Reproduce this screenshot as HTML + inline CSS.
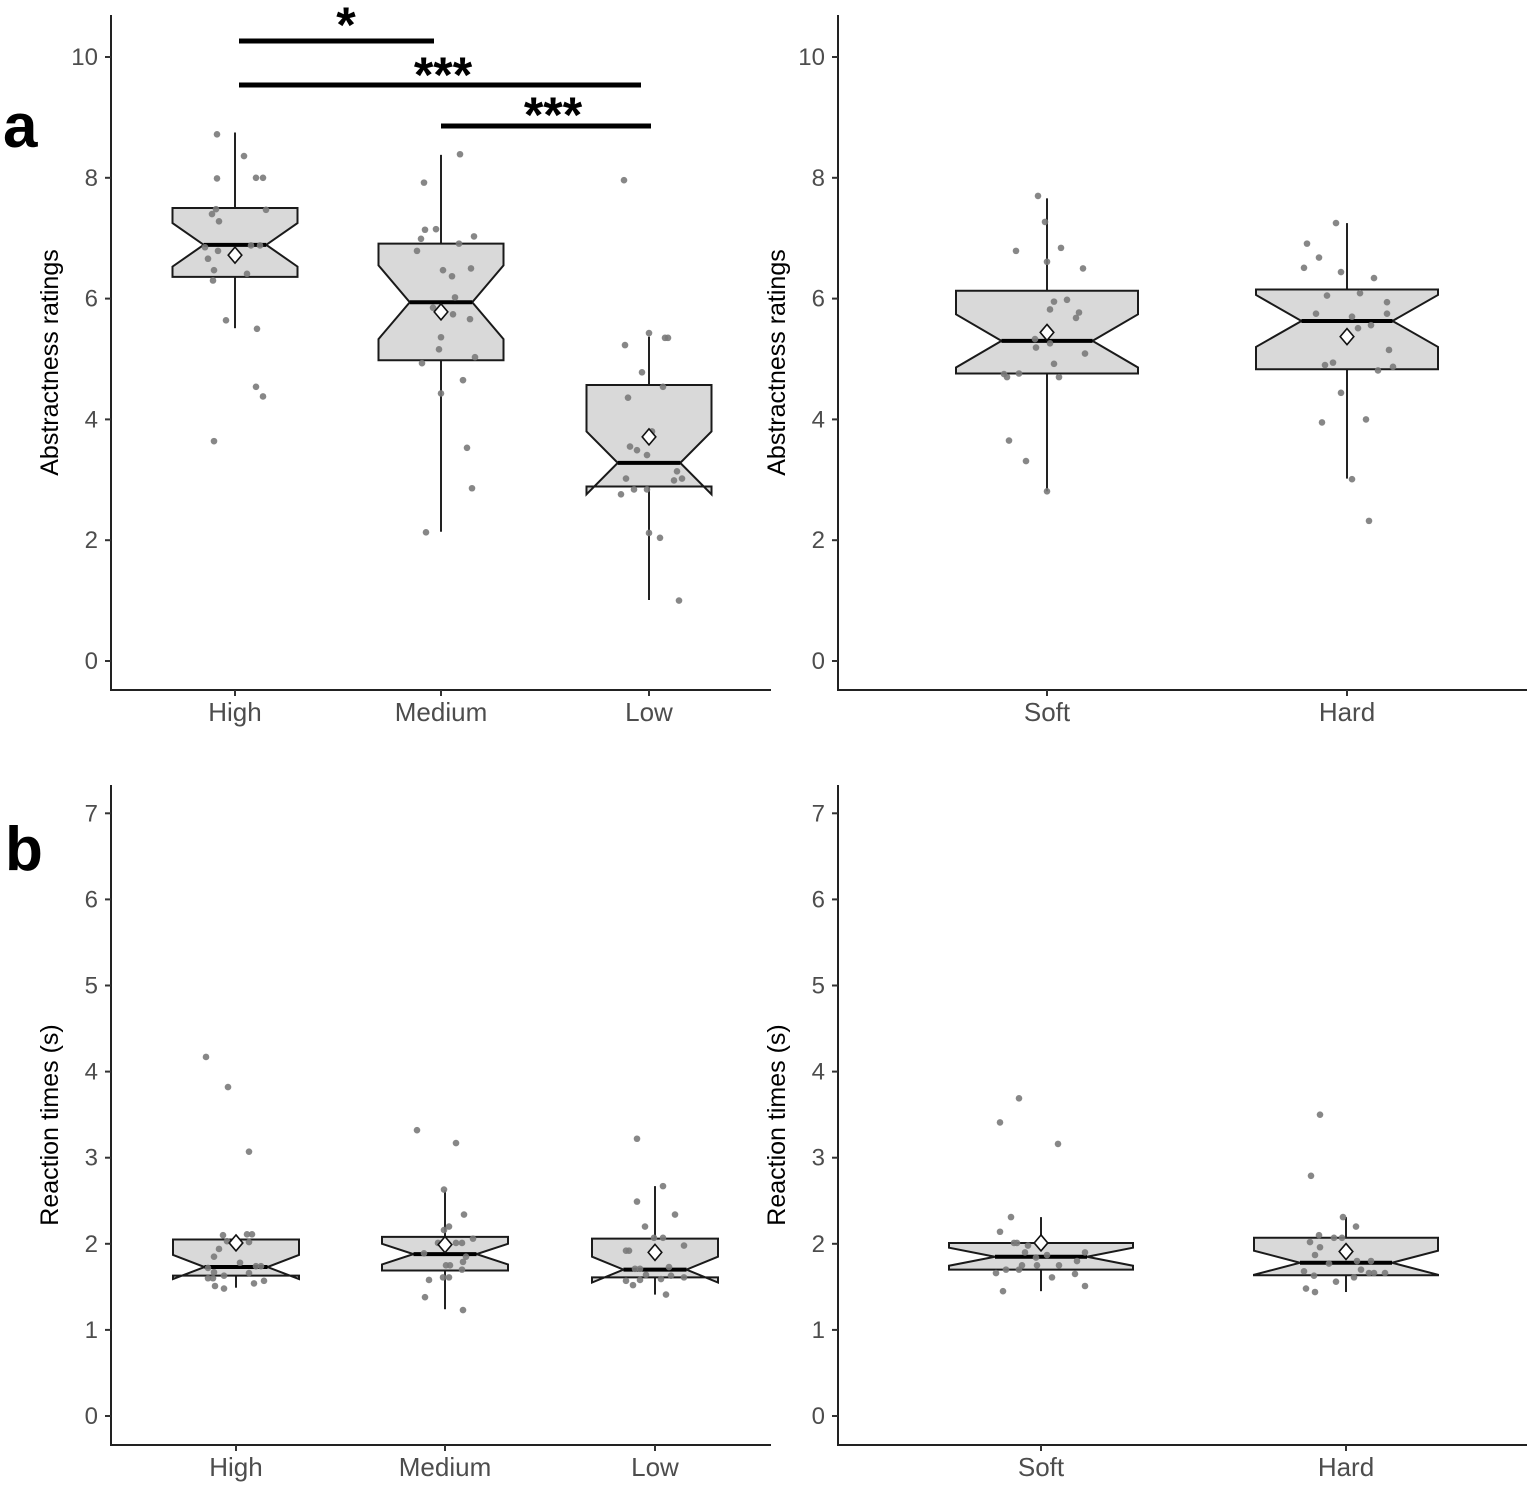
<!DOCTYPE html>
<html><head><meta charset="utf-8"><style>
html,body{margin:0;padding:0;background:#fff}
svg{display:block}
text{font-family:"Liberation Sans",sans-serif}
</style></head><body>
<svg id="fig" width="1535" height="1487" viewBox="0 0 1535 1487" xmlns="http://www.w3.org/2000/svg"></svg>
<script>
// ---- Panel A-left: abstractness by level ----
const catsAL = ["High","Medium","Low"];
const statsAL_q1 = [6.36, 4.98, 2.89];
const statsAL_q3 = [7.50, 6.91, 4.57];
const statsAL_med = [6.89, 5.94, 3.28];
const statsAL_notch = [0.36, 0.61, 0.52];
const statsAL_wlo = [5.51, 2.14, 1.01];
const statsAL_whi = [8.75, 8.38, 5.37];
const statsAL_mean = [6.72, 5.78, 3.71];
const ptsAL_vals = [
 [8.72,8.36,7.99,8.0,8.0,7.48,7.47,7.40,7.28,6.85,6.79,6.88,6.88,6.66,6.47,6.41,6.30,5.64,5.50,4.54,4.38,3.64],
 [8.39,7.92,7.14,7.15,6.99,7.03,6.91,6.79,6.47,6.50,6.37,6.02,5.85,5.74,5.66,5.36,5.16,5.03,4.93,4.65,4.43,3.53,2.86,2.13],
 [7.96,5.43,5.35,5.35,5.23,4.78,4.54,4.36,3.80,3.55,3.49,3.41,3.14,3.02,2.99,3.02,2.84,2.84,2.76,2.12,2.04,1.00]];
const ptsAL_jit = [
 [-18,9,-18,21,28,-19,31,-23,-16,-30,-17,16,25,-27,-21,12,-22,-9,22,21,28,-21],
 [19,-17,-16,-5,-20,33,18,-24,2,30,11,14,-8,12,29,0,-2,34,-19,22,0,26,31,-15],
 [-25,0,16,19,-24,-7,14,-21,3,-19,-12,-2,28,-23,25,33,-15,-2,-28,0,11,30]];
// ---- Panel A-right: abstractness by stiffness ----
const catsAR = ["Soft","Hard"];
const statsAR_q1 = [4.76, 4.83];
const statsAR_q3 = [6.13, 6.15];
const statsAR_med = [5.30, 5.63];
const statsAR_notch = [0.44, 0.43];
const statsAR_wlo = [2.81, 3.02];
const statsAR_whi = [7.66, 7.25];
const statsAR_mean = [5.44, 5.37];
const ptsAR_vals = [
 [7.70,7.27,6.79,6.84,6.61,6.50,5.95,5.98,5.82,5.77,5.68,5.33,5.19,5.26,5.09,4.92,4.75,4.70,4.76,4.70,3.65,3.31,2.81],
 [7.25,6.91,6.68,6.51,6.44,6.34,6.05,6.09,5.94,5.75,5.75,5.70,5.56,5.51,5.15,4.90,4.94,4.81,4.87,4.44,3.95,4.00,3.01,2.32]];
const ptsAR_jit = [
 [-9,-2,-31,14,0,36,7,20,3,32,29,-12,-11,3,38,7,-43,-40,-28,12,-38,-21,0],
 [-11,-40,-28,-43,-6,27,-20,13,40,-31,40,5,24,11,42,-22,-14,31,46,-6,-25,19,5,22]];
// ---- Panel B-left: reaction times by level ----
const catsBL = ["High","Medium","Low"];
const statsBL_q1 = [1.63, 1.69, 1.61];
const statsBL_q3 = [2.05, 2.08, 2.06];
const statsBL_med = [1.73, 1.88, 1.70];
const statsBL_notch = [0.14, 0.12, 0.15];
const statsBL_wlo = [1.49, 1.24, 1.41];
const statsBL_whi = [2.05, 2.62, 2.67];
const statsBL_mean = [2.01, 1.99, 1.90];
const ptsBL_vals = [
 [4.17,3.82,3.07,2.10,2.11,2.11,2.03,2.02,1.94,1.85,1.78,1.72,1.74,1.74,1.67,1.66,1.63,1.60,1.60,1.57,1.54,1.51,1.48],
 [3.32,3.17,2.63,2.34,2.20,2.16,2.06,2.01,2.01,2.01,1.89,1.75,1.75,1.85,1.79,1.70,1.58,1.61,1.61,1.38,1.23],
 [3.22,2.67,2.49,2.34,2.20,2.07,2.07,1.98,1.92,1.92,1.71,1.71,1.73,1.64,1.63,1.61,1.57,1.58,1.59,1.52,1.41]];
const ptsBL_jit = [
 [-30,-8,13,-13,11,16,-9,13,-17,-22,4,-28,20,25,-22,13,-12,-28,-23,28,18,-21,-12],
 [-28,11,-1,19,4,-1,28,-7,11,17,-21,1,5,21,18,17,-16,-2,4,-20,18],
 [-18,8,-18,20,-10,-1,8,29,-29,-26,-20,-15,14,-9,16,29,-29,-15,6,-22,11]];
// ---- Panel B-right: reaction times by stiffness ----
const catsBR = ["Soft","Hard"];
const statsBR_q1 = [1.70, 1.635];
const statsBR_q3 = [2.01, 2.07];
const statsBR_med = [1.85, 1.78];
const statsBR_notch = [0.105, 0.14];
const statsBR_wlo = [1.45, 1.44];
const statsBR_whi = [2.31, 2.31];
const statsBR_mean = [2.01, 1.91];
const ptsBR_vals = [
 [3.69,3.41,3.16,2.31,2.14,2.01,2.01,1.98,1.90,1.90,1.87,1.84,1.80,1.75,1.75,1.75,1.70,1.70,1.66,1.65,1.61,1.51,1.45],
 [3.50,2.79,2.31,2.20,2.10,2.07,2.07,2.02,1.96,1.87,1.77,1.80,1.80,1.70,1.68,1.66,1.66,1.66,1.63,1.61,1.56,1.48,1.44]];
const ptsBR_jit = [
 [-22,-41,17,-30,-41,-27,-24,-13,-16,44,6,-5,36,-19,-4,18,-35,-22,-45,34,11,44,-38],
 [-26,-35,-3,10,-27,-12,-4,-36,-26,-31,-17,11,25,15,-42,23,28,39,-32,8,-10,-40,-31]];
const ticksA = [0,2,4,6,8,10];
const ticksB = [0,1,2,3,4,5,6,7];

const NS = "http://www.w3.org/2000/svg";
const svg = document.getElementById("fig");
function mk(tag, attrs, parent){
  const e = document.createElementNS(NS, tag);
  for (const k in attrs) e.setAttribute(k, attrs[k]);
  (parent||svg).appendChild(e);
  return e;
}

function panel(p){
  const g = mk("g", {});
  
  
  const y = v => p.y0 - (v - 0) * p.ppu;
  const x = i => p.xc[i];
  const ya = mk("line", {x1:p.ax, y1:p.top, x2:p.ax, y2:p.bottom, stroke:"#222", "stroke-width":2}, g);
  
  
  const xa = mk("line", {x1:p.ax-1, y1:p.bottom, x2:p.right, y2:p.bottom, stroke:"#222", "stroke-width":2}, g);
  
  
  p.ticks.forEach(t => {
    mk("line", {x1:p.ax-6, y1:y(t), x2:p.ax, y2:y(t), stroke:"#333", "stroke-width":2}, g);
    const tl = mk("text", {x:p.ax-13, y:y(t)+8, "text-anchor":"end", "font-size":24, fill:"#4d4d4d"}, g);
    tl.textContent = t;
    
    
  });
  p.cats.forEach((c,i) => {
    mk("line", {x1:x(i), y1:p.bottom, x2:x(i), y2:p.bottom+6, stroke:"#333", "stroke-width":2}, g);
    const xl = mk("text", {x:x(i), y:p.bottom+31, "text-anchor":"middle", "font-size":26, fill:"#4d4d4d"}, g);
    xl.textContent = c;
    
    
  });
  const tt = mk("text", {transform:`translate(${p.ax-53},${(p.top+p.bottom)/2+10}) rotate(-90)`, "text-anchor":"middle", "font-size":25, fill:"#000"}, g);
  tt.textContent = p.title;
  
  
  p.cats.forEach((c,i) => {
    const cx = x(i), hw = p.hw, nw = p.hw*0.5;
    const q1 = y(p.q1[i]), q3 = y(p.q3[i]), md = y(p.med[i]);
    const nHi = y(p.med[i] + p.notch[i]), nLo = y(p.med[i] - p.notch[i]);
    const w1 = mk("line", {x1:cx, y1:q3, x2:cx, y2:y(p.whi[i]), stroke:"#222", "stroke-width":2}, g);
    
    
    const w2 = mk("line", {x1:cx, y1:q1, x2:cx, y2:y(p.wlo[i]), stroke:"#222", "stroke-width":2}, g);
    
    
    const pts = [[cx-hw,q3],[cx+hw,q3],[cx+hw,nHi],[cx+nw,md],[cx+hw,nLo],[cx+hw,q1],[cx-hw,q1],[cx-hw,nLo],[cx-nw,md],[cx-hw,nHi]];
    const bx = mk("polygon", {points:pts.map(q=>q.join(",")).join(" "), fill:"#d9d9d9", stroke:"#1a1a1a", "stroke-width":2}, g);
    
    
    const ml = mk("line", {x1:cx-nw, y1:md, x2:cx+nw, y2:md, stroke:"#000", "stroke-width":4}, g);
    
    
    p.vals[i].forEach((v,j) => {
      const d = mk("circle", {cx:cx + p.jit[i][j], cy:y(v), r:3.3, fill:"#7a7a7a", "fill-opacity":0.9}, g);
      
      
    });
    const my = y(p.mean[i]), s = 8;
    const dm = mk("polygon", {points:`${cx},${my-s} ${cx+s*0.85},${my} ${cx},${my+s} ${cx-s*0.85},${my}`, fill:"#fff", stroke:"#111", "stroke-width":1.6}, g);
    
    
  });
}

panel({name:"panel-a-level", ax:111, top:15, bottom:690, right:771, y0:661, ppu:60.4, ticks:ticksA, xc:[235,441,649], hw:62.5,
  cats:catsAL, q1:statsAL_q1, q3:statsAL_q3, med:statsAL_med, notch:statsAL_notch, wlo:statsAL_wlo, whi:statsAL_whi, mean:statsAL_mean,
  vals:ptsAL_vals, jit:ptsAL_jit, title:"Abstractness ratings"});
panel({name:"panel-a-stiffness", ax:838, top:15, bottom:690, right:1527, y0:661, ppu:60.4, ticks:ticksA, xc:[1047,1347], hw:91,
  cats:catsAR, q1:statsAR_q1, q3:statsAR_q3, med:statsAR_med, notch:statsAR_notch, wlo:statsAR_wlo, whi:statsAR_whi, mean:statsAR_mean,
  vals:ptsAR_vals, jit:ptsAR_jit, title:"Abstractness ratings"});
panel({name:"panel-b-level", ax:111, top:785, bottom:1445, right:771, y0:1416, ppu:86.1, ticks:ticksB, xc:[236,445,655], hw:63,
  cats:catsBL, q1:statsBL_q1, q3:statsBL_q3, med:statsBL_med, notch:statsBL_notch, wlo:statsBL_wlo, whi:statsBL_whi, mean:statsBL_mean,
  vals:ptsBL_vals, jit:ptsBL_jit, title:"Reaction times (s)"});
panel({name:"panel-b-stiffness", ax:838, top:785, bottom:1445, right:1527, y0:1416, ppu:86.1, ticks:ticksB, xc:[1041,1346], hw:92,
  cats:catsBR, q1:statsBR_q1, q3:statsBR_q3, med:statsBR_med, notch:statsBR_notch, wlo:statsBR_wlo, whi:statsBR_whi, mean:statsBR_mean,
  vals:ptsBR_vals, jit:ptsBR_jit, title:"Reaction times (s)"});

// significance bars
const sigX1 = [239, 239, 441];
const sigX2 = [434, 641, 651];
const sigY = [41, 85, 126];
const sigLabel = ["*", "***", "***"];
const sigTextX = [346, 443, 553];
const sigTextY = [42, 92, 132];
sigLabel.forEach((s,i) => {
  const l = mk("line", {x1:sigX1[i], y1:sigY[i], x2:sigX2[i], y2:sigY[i], stroke:"#000", "stroke-width":5});
  
  
  const t = mk("text", {x:sigTextX[i], y:sigTextY[i], "text-anchor":"middle", "font-size":50, "font-weight":"bold", fill:"#000"});
  t.textContent = s;
  
  
});
const la = mk("text", {x:3, y:147, "font-size":62, "font-weight":"bold", fill:"#000"});
la.textContent = "a";


const lb = mk("text", {x:5, y:870, "font-size":62, "font-weight":"bold", fill:"#000"});
lb.textContent = "b";


</script>
</body></html>
